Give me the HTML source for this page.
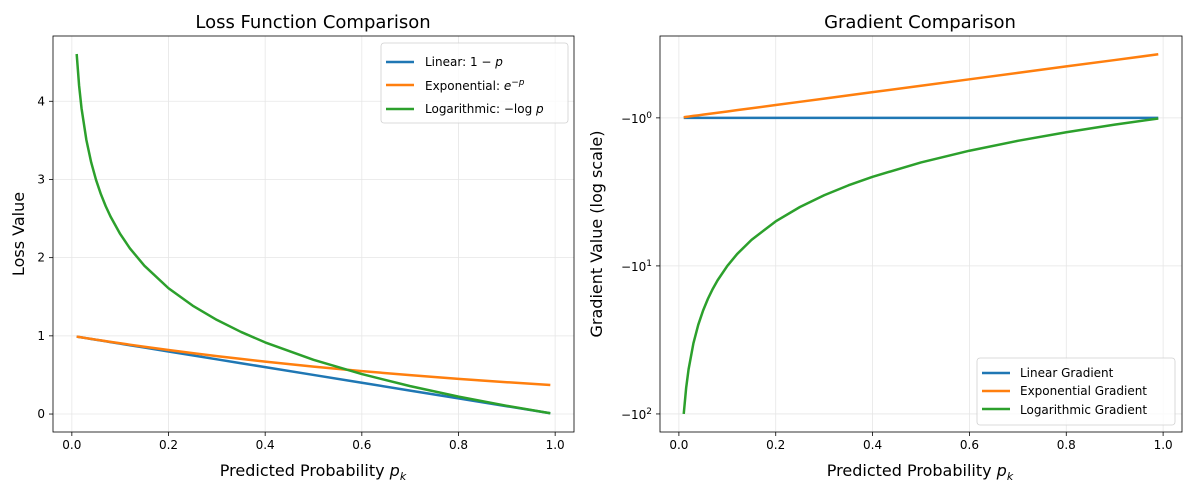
<!DOCTYPE html>
<html><head><meta charset="utf-8"><style>
body{margin:0;background:#fff;}
svg text{font-family:"DejaVu Sans","Liberation Sans",sans-serif;fill:#000;}
</style></head><body>
<svg id="c" width="1193" height="494" style="position:absolute;left:0;top:0" xmlns="http://www.w3.org/2000/svg"></svg>
<script>
const pVals=[0.01,0.015,0.02,0.03,0.04,0.05,0.06,0.07,0.08,0.1,0.12,0.15,0.2,0.25,0.3,0.35,0.4,0.5,0.6,0.7,0.8,0.9,0.99];
const linearLoss=[0.99,0.985,0.98,0.97,0.96,0.95,0.94,0.93,0.92,0.9,0.88,0.85,0.8,0.75,0.7,0.65,0.6,0.5,0.4,0.3,0.2,0.1,0.01];
const expLoss=[0.990,0.985,0.980,0.970,0.961,0.951,0.942,0.932,0.923,0.905,0.887,0.861,0.819,0.779,0.741,0.705,0.670,0.607,0.549,0.497,0.449,0.407,0.372];
const logLoss=[4.605,4.200,3.912,3.507,3.219,2.996,2.813,2.659,2.526,2.303,2.120,1.897,1.609,1.386,1.204,1.050,0.916,0.693,0.511,0.357,0.223,0.105,0.010];
const linearGrad=[-1,-1,-1,-1,-1,-1,-1,-1,-1,-1,-1,-1,-1,-1,-1,-1,-1,-1,-1,-1,-1,-1,-1];
const expGrad=[-0.990,-0.985,-0.980,-0.970,-0.961,-0.951,-0.942,-0.932,-0.923,-0.905,-0.887,-0.861,-0.819,-0.779,-0.741,-0.705,-0.670,-0.607,-0.549,-0.497,-0.449,-0.407,-0.372];
const logGrad=[-100,-66.67,-50,-33.33,-25,-20,-16.67,-14.29,-12.5,-10,-8.333,-6.667,-5,-4,-3.333,-2.857,-2.5,-2,-1.667,-1.429,-1.25,-1.111,-1.010];
const xTicks=[0,0.2,0.4,0.6,0.8,1.0];
const xTickLabels=["0.0","0.2","0.4","0.6","0.8","1.0"];
const yTicksL=[0,1,2,3,4];
const yTicksR=[0,1,2];

const svg=document.getElementById('c');
const NS='http://www.w3.org/2000/svg';
function mk(t,a,txt){const e=document.createElementNS(NS,t);for(const k in a)e.setAttribute(k,a[k]);if(txt!==undefined)e.textContent=txt;svg.appendChild(e);return e;}
const C={b:'#1f77b4',o:'#ff7f0e',g:'#2ca02c'};

const L={x0:53,x1:574,y0:36,y1:432};
const lx=v=>L.x0+(v+0.039)/1.078*(L.x1-L.x0);
const ly=v=>L.y1-(v+0.2298)/(4.835+0.2298)*(L.y1-L.y0);
const R={x0:660,x1:1182,y0:36,y1:432};
const rx=v=>R.x0+(v+0.039)/1.078*(R.x1-R.x0);
const ryl=d=>R.y0+(d+0.553)/(2.122+0.553)*(R.y1-R.y0);
const ry=v=>ryl(Math.log10(Math.abs(v)));

function grid(A,xf,yf,yt){
  xTicks.forEach(t=>{const g=mk('line',{x1:xf(t),x2:xf(t),y1:A.y0,y2:A.y1,stroke:'#e6e6e6','stroke-width':0.8});
    });
  yt.forEach(t=>{const g=mk('line',{x1:A.x0,x2:A.x1,y1:yf(t),y2:yf(t),stroke:'#e6e6e6','stroke-width':0.8});
    });
}
function xaxis(A,xf){
  xTicks.forEach((t,i)=>{
    const tk=mk('line',{x1:xf(t),x2:xf(t),y1:A.y1,y2:A.y1+4,stroke:'#000','stroke-width':0.8});
    
    const tl=mk('text',{x:xf(t),y:A.y1+17,'font-size':12,'text-anchor':'middle'},xTickLabels[i]);
    
  });
}
function line(xs,ys,xf,yf,col,name){
  const d=xs.map((x,i)=>(i?'L':'M')+xf(x).toFixed(2)+','+yf(ys[i]).toFixed(2)).join('');
  const p=mk('path',{d:d,fill:'none',stroke:col,'stroke-width':2.5,'stroke-linejoin':'round'});
  
}
grid(L,lx,ly,yTicksL);
xaxis(L,lx);
yTicksL.forEach(t=>{
  const tk=mk('line',{x1:L.x0-4,x2:L.x0,y1:ly(t),y2:ly(t),stroke:'#000','stroke-width':0.8});
  
  const tl=mk('text',{x:L.x0-8,y:ly(t)+4,'font-size':12,'text-anchor':'end'},String(t));
  
});
line(pVals,linearLoss,lx,ly,C.b,'linear-loss-line');
line(pVals,expLoss,lx,ly,C.o,'exponential-loss-line');
line(pVals,logLoss,lx,ly,C.g,'logarithmic-loss-line');
grid(R,rx,ryl,yTicksR);
xaxis(R,rx);
yTicksR.forEach(t=>{
  const tk=mk('line',{x1:R.x0-4,x2:R.x0,y1:ryl(t),y2:ryl(t),stroke:'#000','stroke-width':0.8});
  
  const tl=mk('text',{x:R.x0-8,y:ryl(t)+5,'font-size':12,'text-anchor':'end'});
  tl.innerHTML='−10<tspan dy="-5" font-size="9">'+t+'</tspan>';
  
});
line(pVals,linearGrad,rx,ry,C.b,'linear-gradient-line');
line(pVals,expGrad,rx,ry,C.o,'exponential-gradient-line');
line(pVals,logGrad,rx,ry,C.g,'logarithmic-gradient-line');
</script>
<svg width="1193" height="494" style="position:absolute;left:0;top:0" xmlns="http://www.w3.org/2000/svg">
<g>
<rect x="53" y="36" width="521" height="396" fill="none" stroke="#000" stroke-width="0.8"/>
<text x="313" y="28" font-size="18" text-anchor="middle">Loss Function Comparison</text>
<text x="313" y="476" font-size="16" text-anchor="middle">Predicted Probability <tspan font-style="italic">p</tspan><tspan font-style="italic" font-size="11" dy="4">k</tspan></text>
<text transform="translate(24,234) rotate(-90)" font-size="16" text-anchor="middle">Loss Value</text>
<g>
<rect x="381" y="43" width="187" height="80" rx="3" fill="#fff" fill-opacity="0.8" stroke="#d0d0d0" stroke-width="0.8"/>
<line x1="386" x2="414" y1="62" y2="62" stroke="#1f77b4" stroke-width="2.5"/>
<text x="425" y="66" font-size="12">Linear: 1 − <tspan font-style="italic">p</tspan></text>
<line x1="386" x2="414" y1="85" y2="85" stroke="#ff7f0e" stroke-width="2.5"/>
<text x="425" y="90" font-size="12">Exponential: <tspan font-style="italic">e</tspan><tspan font-size="9" dy="-5">−<tspan font-style="italic">p</tspan></tspan></text>
<line x1="386" x2="414" y1="109" y2="109" stroke="#2ca02c" stroke-width="2.5"/>
<text x="425" y="113" font-size="12">Logarithmic: −log <tspan font-style="italic">p</tspan></text>
</g>
</g>
<g>
<rect x="660" y="36" width="522" height="396" fill="none" stroke="#000" stroke-width="0.8"/>
<text x="920" y="28" font-size="18" text-anchor="middle">Gradient Comparison</text>
<text x="920" y="476" font-size="16" text-anchor="middle">Predicted Probability <tspan font-style="italic">p</tspan><tspan font-style="italic" font-size="11" dy="4">k</tspan></text>
<text transform="translate(602,234) rotate(-90)" font-size="16" text-anchor="middle">Gradient Value (log scale)</text>
<g>
<rect x="977" y="358" width="198" height="67" rx="3" fill="#fff" fill-opacity="0.8" stroke="#d0d0d0" stroke-width="0.8"/>
<line x1="982" x2="1010" y1="373" y2="373" stroke="#1f77b4" stroke-width="2.5"/>
<text x="1020" y="377" font-size="12">Linear Gradient</text>
<line x1="982" x2="1010" y1="391" y2="391" stroke="#ff7f0e" stroke-width="2.5"/>
<text x="1020" y="395" font-size="12">Exponential Gradient</text>
<line x1="982" x2="1010" y1="409" y2="409" stroke="#2ca02c" stroke-width="2.5"/>
<text x="1020" y="414" font-size="12">Logarithmic Gradient</text>
</g>
</g>
</svg>
</body></html>
